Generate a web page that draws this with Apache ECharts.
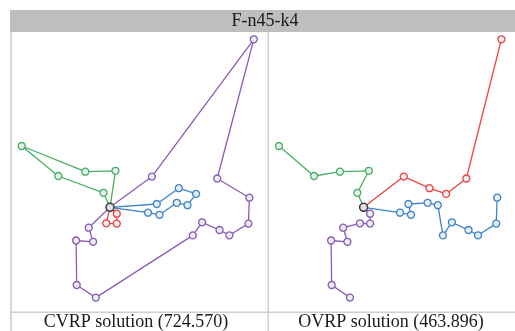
<!DOCTYPE html>
<html>
<head>
<meta charset="utf-8">
<script src="https://cdn.jsdelivr.net/npm/echarts@6/dist/echarts.min.js"></script>
<style>html,body{margin:0;padding:0;background:#fff;}#c{width:515px;height:331px;}</style>
</head>
<body>
<div id="c"></div>
<script>
// Node coordinates (node 0 = depot)
var nodeX = [99, 10.7, 47.3, 74.3, 104.5, 92.5, 105.8, 95.2, 105.8, 137, 148.5, 145.8, 165.8, 176.5, 185.1, 167.8, 140.9, 242.8, 206.2, 238.4, 237.4, 218.4, 208.5, 191.1, 181.8, 84.8, 65.7, 65.1, 82.1, 77.7];
var nodeY = [104.7, 166, 136, 140.3, 141.2, 119.2, 98.3, 88.7, 88.4, 99.3, 97.2, 108, 109.2, 106.8, 118.1, 123.8, 135.4, 272.7, 133.5, 114.3, 88.4, 76.7, 82, 89.7, 76.6, 14.4, 27, 71.5, 70.2, 84.3];

var routeColors = ['#45b160', '#ef4040', '#3d84c8', '#8c5ab6'];
// CVRP routes (closed)
var cvrpRoutes = [
  [0, 4, 3, 1, 2, 5, 0],
  [0, 7, 8, 6, 0],
  [0, 9, 10, 12, 13, 14, 15, 11, 0],
  [0, 16, 17, 18, 19, 20, 21, 22, 23, 24, 25, 26, 27, 28, 29, 0]
];
// OVRP routes (open)
var ovrpRoutes = [
  [0, 5, 4, 3, 2, 1],
  [0, 16, 15, 14, 18, 17],
  [0, 9, 10, 11, 12, 13, 24, 23, 22, 21, 20, 19],
  [0, 6, 8, 7, 29, 28, 27, 26, 25]
];
var titleText = 'F-n45-k4';
var captions = ['CVRP solution (724.570)', 'OVRP solution (463.896)'];

var chart = echarts.init(document.getElementById('c'), null, {renderer: 'canvas'});
var series = [];
function addRoutes(routes, gi) {
  routes.forEach(function (r, k) {
    series.push({
      type: 'line', xAxisIndex: gi, yAxisIndex: gi, clip: false,
      data: r.map(function (i) { return [nodeX[i], nodeY[i]]; }),
      symbol: 'circle', symbolSize: 7, showSymbol: true,
      lineStyle: {color: routeColors[k], width: 1.3},
      itemStyle: {color: '#e8eef1', borderColor: routeColors[k], borderWidth: 1.3},
      animation: false, silent: true
    });
  });
  series.push({
    type: 'scatter', xAxisIndex: gi, yAxisIndex: gi, clip: false,
    data: [[nodeX[0], nodeY[0]]], symbol: 'circle', symbolSize: 8, z: 5,
    itemStyle: {color: '#e0e0e0', borderColor: '#222', borderWidth: 1.5},
    animation: false, silent: true
  });
}
addRoutes(cvrpRoutes, 0);
addRoutes(ovrpRoutes, 1);

var axX = {type: 'value', min: 0, max: 257, show: false};
var axY = {type: 'value', min: 0, max: 279, show: false};
var serif = '"Liberation Serif", "DejaVu Serif", serif';
chart.setOption({
  animation: false,
  grid: [
    {left: 11, top: 33, width: 257, height: 279},
    {left: 268.7, top: 33, width: 257, height: 279}
  ],
  xAxis: [Object.assign({gridIndex: 0}, axX), Object.assign({gridIndex: 1}, axX)],
  yAxis: [Object.assign({gridIndex: 0}, axY), Object.assign({gridIndex: 1}, axY)],
  graphic: [
    {type: 'rect', shape: {x: 10, y: 10, width: 510, height: 22}, style: {fill: '#bebebe'}, z: -10},
    {type: 'rect', shape: {x: 10, y: 32, width: 2, height: 299}, style: {fill: '#d6d6d6'}, z: -10},
    {type: 'rect', shape: {x: 267.5, y: 32, width: 1.5, height: 299}, style: {fill: '#d0d0d0'}, z: -10},
    {type: 'rect', shape: {x: 10, y: 311.5, width: 510, height: 1.5}, style: {fill: '#d0d0d0'}, z: -10},
    {type: 'text', x: 265, y: 21, style: {text: titleText, font: '18px ' + serif, fill: '#1a1a1a', align: 'center', verticalAlign: 'middle'}},
    {type: 'text', x: 136, y: 322, style: {text: captions[0], font: '18px ' + serif, fill: '#1a1a1a', align: 'center', verticalAlign: 'middle'}},
    {type: 'text', x: 391, y: 322, style: {text: captions[1], font: '18px ' + serif, fill: '#1a1a1a', align: 'center', verticalAlign: 'middle'}}
  ],
  series: series
});
</script>
</body>
</html>
